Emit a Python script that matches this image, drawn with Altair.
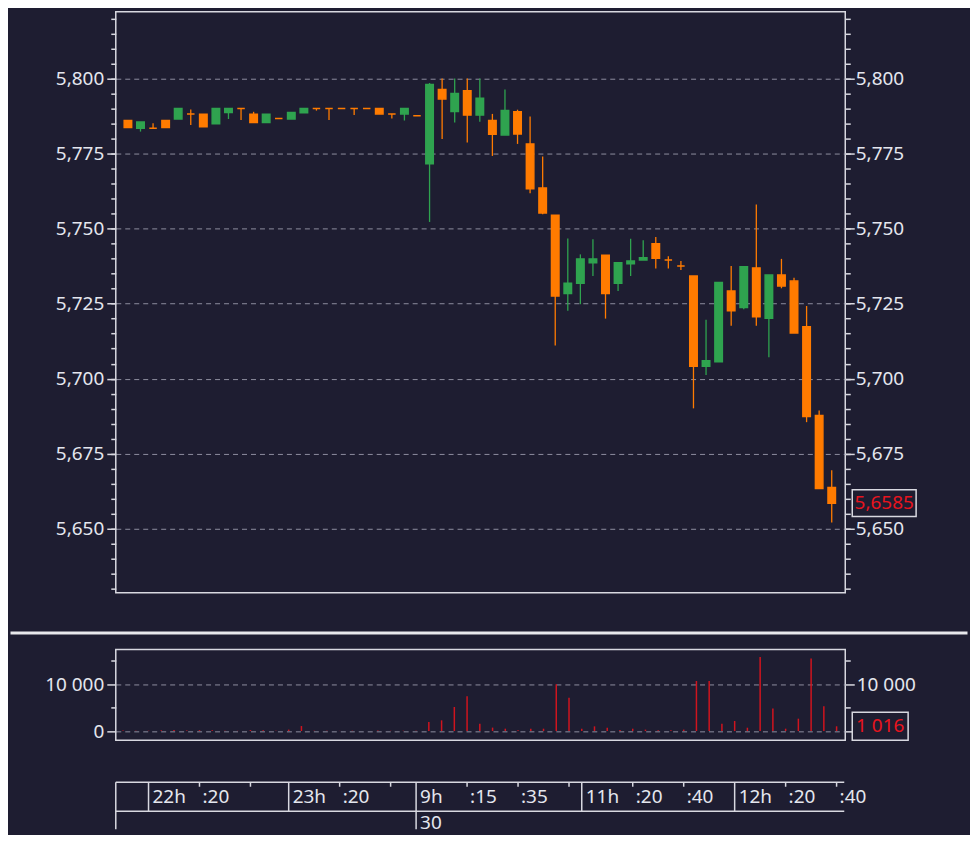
import altair as alt
import pandas as pd

BG = "#1e1d31"
UP = "#2fa34f"
DOWN = "#ff7b00"
VOLC = "#d0141e"
RED_TXT = "#e8141e"
FG = "#e4e6ee"
LINE = "#d8d8e0"
GRID = "#9a9aac"
FONT = "Noto Sans"
FS = 19

# ---------------- data ----------------
bar_index = list(range(57))
open_p = [5.7860, 5.7834, 5.7834, 5.7860, 5.7865, 5.7882, 5.7881, 5.7849, 5.7887, 5.7900,
          5.7881, 5.7853, 5.7867, 5.7865, 5.7886, 5.7900, 5.7900, 5.7900, 5.7900, 5.7900,
          5.7900, 5.7882, 5.7882, 5.7876, 5.7716, 5.7963, 5.7890, 5.7959, 5.7878, 5.7860,
          5.7812, 5.7889, 5.7782, 5.7635, 5.7544, 5.7284, 5.7318, 5.7386, 5.7411, 5.7318,
          5.7383, 5.7395, 5.7449, 5.7395, 5.7375, 5.7342, 5.7041, 5.7056, 5.7292, 5.7237,
          5.7369, 5.7201, 5.7345, 5.7325, 5.7173, 5.6877, 5.6637]
close_p = [5.7837, 5.7855, 5.7834, 5.7837, 5.7900, 5.7882, 5.7839, 5.7900, 5.7900, 5.7900,
           5.7853, 5.7881, 5.7867, 5.7887, 5.7900, 5.7900, 5.7900, 5.7900, 5.7900, 5.7900,
           5.7882, 5.7882, 5.7900, 5.7876, 5.7980, 5.7932, 5.7950, 5.7878, 5.7934, 5.7814,
           5.7893, 5.7815, 5.7633, 5.7552, 5.7275, 5.7318, 5.7399, 5.7399, 5.7284, 5.7386,
           5.7392, 5.7403, 5.7401, 5.7395, 5.7375, 5.7041, 5.7060, 5.7320, 5.7226, 5.7373,
           5.7206, 5.7345, 5.7309, 5.7152, 5.6874, 5.6634, 5.6585]
high_p = [5.7861, 5.7855, 5.7851, 5.7860, 5.7900, 5.7897, 5.7881, 5.7900, 5.7900, 5.7900,
          5.7889, 5.7881, 5.7867, 5.7887, 5.7900, 5.7900, 5.7900, 5.7900, 5.7900, 5.7900,
          5.7900, 5.7882, 5.7900, 5.7876, 5.7985, 5.8000, 5.8000, 5.8000, 5.8000, 5.7882,
          5.7963, 5.7896, 5.7873, 5.7740, 5.7544, 5.7467, 5.7414, 5.7464, 5.7411, 5.7386,
          5.7466, 5.7461, 5.7472, 5.7408, 5.7392, 5.7342, 5.7196, 5.7320, 5.7375, 5.7373,
          5.7580, 5.7345, 5.7399, 5.7336, 5.7242, 5.6894, 5.6695]
low_p = [5.7836, 5.7823, 5.7834, 5.7837, 5.7865, 5.7845, 5.7839, 5.7849, 5.7865, 5.7862,
         5.7853, 5.7853, 5.7867, 5.7865, 5.7886, 5.7893, 5.7862, 5.7900, 5.7878, 5.7900,
         5.7882, 5.7867, 5.7860, 5.7876, 5.7522, 5.7798, 5.7853, 5.7787, 5.7856, 5.7742,
         5.7812, 5.7782, 5.7618, 5.7548, 5.7110, 5.7226, 5.7248, 5.7342, 5.7200, 5.7292,
         5.7342, 5.7395, 5.7367, 5.7367, 5.7362, 5.6901, 5.7012, 5.7056, 5.7176, 5.7231,
         5.7176, 5.7071, 5.7301, 5.7152, 5.6855, 5.6634, 5.6521]
volume = [120, 80, 60, 150, 200, 90, 180, 150, 60, 40,
          200, 150, 50, 300, 1070, 40, 80, 30, 60, 30,
          100, 50, 60, 40, 1930, 2290, 5140, 7430, 1570, 730,
          500, 150, 500, 500, 10000, 7140, 500, 1000, 700, 200,
          500, 300, 150, 150, 300, 10700, 10700, 1570, 2140, 710,
          15850, 4800, 500, 2640, 15500, 5290, 1016]

price_major = [5.650, 5.675, 5.700, 5.725, 5.750, 5.775, 5.800]
price_minor = [round(5.630 + 0.005 * k, 3) for k in range(39)]
vol_major = [0, 10000]
vol_minor = [5000, 15000]

hour_pos = [2, 13, 23, 36, 48]
hour_labels = ["22h", "23h", "9h", "11h", "12h"]
minute_pos = [6, 10, 17, 21, 27, 31, 35, 40, 44, 52, 56]
minute_labels = [":20", "", ":20", "", ":15", ":35", "", ":20", ":40", ":20", ":40"]
date_pos = [23]
date_labels = ["30"]

# ---------------- frames ----------------
df = pd.DataFrame({"i": bar_index, "open": open_p, "high": high_p, "low": low_p,
                   "close": close_p, "volume": volume})
df["dir"] = ["up" if c > o else "down" for o, c in zip(open_p, close_p)]
last = df.iloc[[-1]].copy()
last["plabel"] = [f"{close_p[-1]:.4f}".replace(".", ",")]
last["vlabel"] = [f"{volume[-1]:,}".replace(",", " ")]
hours = pd.DataFrame({"i": hour_pos, "t": hour_labels})
minutes = pd.DataFrame({"i": minute_pos, "t": minute_labels})
dates = pd.DataFrame({"i": date_pos, "t": date_labels})
one = pd.DataFrame({"k": [0]})

W = 731
xs = alt.Scale(domain=[-0.57, 56.68], nice=False, zero=False)
X = alt.X("i:Q", scale=xs, axis=None)
ys = alt.Scale(domain=[5.6287, 5.8222], nice=False, zero=False)
vs = alt.Scale(domain=[-1990, 17430], nice=False, zero=False)
cs = alt.Scale(domain=["up", "down"], range=[UP, DOWN])

price_fmt = "replace(format(datum.value, '.3f'), '.', ',')"
vol_fmt = "replace(format(datum.value, ','), ',', ' ')"
vol_fmt_r = "datum.value == 0 ? '' : " + vol_fmt


def axis_layer(data, field, scale, axis):
    return alt.Chart(data).mark_point(opacity=0).encode(
        x=X, y=alt.Y(f"{field}:Q", scale=scale, axis=axis))


base = alt.Chart(df)

# ---------------- price panel ----------------
p_axes = [
    axis_layer(df, "close", ys, alt.Axis(orient="left", values=price_major, labelExpr=price_fmt,
                                          tickSize=9, labelPadding=3, grid=True, title=None)),
    axis_layer(df, "close", ys, alt.Axis(orient="left", values=price_minor, labels=False,
                                          tickSize=5, grid=False, title=None)),
    axis_layer(df, "close", ys, alt.Axis(orient="right", values=price_major, labelExpr=price_fmt,
                                          tickSize=9, labelPadding=1, grid=False, title=None)),
    axis_layer(df, "close", ys, alt.Axis(orient="right", values=price_minor, labels=False,
                                          tickSize=5, grid=False, title=None)),
]
wicks = base.mark_rule(strokeWidth=1.3).encode(
    x=X, y=alt.Y("low:Q", scale=ys, axis=None), y2="high:Q",
    color=alt.Color("dir:N", scale=cs, legend=None))
bodies = base.mark_bar(size=7.5, strokeWidth=1.5).encode(
    x=X, y=alt.Y("open:Q", scale=ys, axis=None), y2="close:Q",
    color=alt.Color("dir:N", scale=cs, legend=None),
    stroke=alt.Stroke("dir:N", scale=cs, legend=None))
pbox = alt.Chart(last).mark_point(
    shape="M-1,-0.42L1,-0.42L1,0.42L-1,0.42Z", size=4096, filled=True, color=BG,
    stroke=LINE, strokeWidth=1.5, opacity=1).encode(
    x=alt.value(770), y=alt.Y("close:Q", scale=ys, axis=None))
ptxt = alt.Chart(last).mark_text(font=FONT, fontSize=FS, color=RED_TXT, align="center",
                                 baseline="middle").encode(
    x=alt.value(770), y=alt.Y("close:Q", scale=ys, axis=None), text="plabel:N")

price = alt.layer(*p_axes, wicks, bodies, pbox, ptxt).resolve_axis(
    y="independent").properties(width=W, height=582)

# ---------------- volume panel + time table ----------------
v_axes = [
    axis_layer(df, "volume", vs, alt.Axis(orient="left", values=vol_major, labelExpr=vol_fmt,
                                           tickSize=9, labelPadding=3, grid=True, title=None)),
    axis_layer(df, "volume", vs, alt.Axis(orient="left", values=vol_minor, labels=False,
                                           tickSize=5, grid=False, title=None)),
    axis_layer(df, "volume", vs, alt.Axis(orient="right", values=vol_major, labelExpr=vol_fmt_r,
                                           tickSize=9, labelPadding=2, grid=False, title=None)),
    axis_layer(df, "volume", vs, alt.Axis(orient="right", values=vol_minor, labels=False,
                                           tickSize=5, grid=False, title=None)),
]
vbars = base.mark_rule(strokeWidth=1.5, color=VOLC).encode(
    x=X, y=alt.Y("volume:Q", scale=vs, axis=None), y2=alt.datum(0))
vbox = alt.Chart(last).mark_point(
    shape="M-1,-0.5L1,-0.5L1,0.5L-1,0.5Z", size=3136, filled=True, color=BG,
    stroke=LINE, strokeWidth=1.5, opacity=1).encode(
    x=alt.value(766), y=alt.Y("volume:Q", scale=vs, axis=None))
vtxt = alt.Chart(last).mark_text(font=FONT, fontSize=FS, color=RED_TXT, align="center",
                                 baseline="middle").encode(
    x=alt.value(766), y=alt.Y("volume:Q", scale=vs, axis=None), text="vlabel:N")

sep = alt.Chart(one).mark_rule(color="#e8e8ec", strokeWidth=3).encode(
    x=alt.value(-105.5), x2=alt.value(853.5), y=alt.value(-16.5))

T0, T1, T2 = 133, 162, 180
tline_top = alt.Chart(one).mark_rule(color=LINE, strokeWidth=1.5).encode(
    x=alt.value(0), x2=alt.value(730), y=alt.value(T0))
tline_mid = alt.Chart(one).mark_rule(color=LINE, strokeWidth=1.5).encode(
    x=alt.value(0), x2=alt.value(730), y=alt.value(T1))
tline_left = alt.Chart(one).mark_rule(color=LINE, strokeWidth=1.5).encode(
    x=alt.value(0), y=alt.value(T0), y2=alt.value(T2))
hour_div = alt.Chart(hours).mark_rule(color=LINE, strokeWidth=1.5).encode(
    x=X, y=alt.value(T0), y2=alt.value(T1))
date_div = alt.Chart(dates).mark_rule(color=LINE, strokeWidth=1.5).encode(
    x=X, y=alt.value(T1), y2=alt.value(T2))
min_ticks = alt.Chart(minutes).mark_rule(color=LINE, strokeWidth=1.5).encode(
    x=X, y=alt.value(T0), y2=alt.value(T0 + 4.5))
hour_txt = alt.Chart(hours).mark_text(font=FONT, fontSize=FS, color=FG, align="left",
                                      baseline="middle", dx=4).encode(
    x=X, y=alt.value(147.5), text="t:N")
min_txt = alt.Chart(minutes).mark_text(font=FONT, fontSize=FS, color=FG, align="left",
                                       baseline="middle", dx=3).encode(
    x=X, y=alt.value(147.5), text="t:N")
date_txt = alt.Chart(dates).mark_text(font=FONT, fontSize=FS, color=FG, align="left",
                                      baseline="middle", dx=4).encode(
    x=X, y=alt.value(173.5), text="t:N")

vol = alt.layer(*v_axes, vbars, vbox, vtxt, sep, tline_top, tline_mid, tline_left,
                hour_div, date_div, min_ticks, hour_txt, min_txt, date_txt).resolve_axis(
    y="independent").properties(width=W, height=91)

chart = alt.vconcat(price, vol, spacing=57, bounds="flush").resolve_scale(
    x="independent", y="independent").properties(
    background=BG, padding={"left": 0, "top": 2, "right": 0, "bottom": 0}
).configure_view(stroke=LINE, strokeWidth=1.5).configure_axis(
    domain=False, labelFont=FONT, labelFontSize=FS, labelColor=FG, tickColor=LINE,
    tickWidth=1.5, gridColor=GRID, gridDash=[5, 4], gridWidth=1, gridOpacity=0.9)

chart.save("out.html", embed_options={"renderer": "svg", "actions": False})
